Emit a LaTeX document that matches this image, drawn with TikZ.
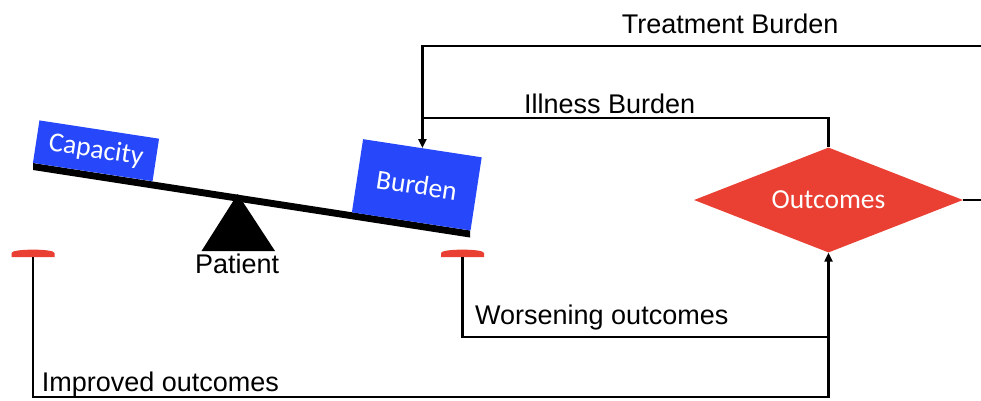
\documentclass[tikz,border=0pt]{standalone}
\usepackage{fontspec}
\setmainfont{Liberation Sans}
\newfontfamily\boxfont{Carlito}
\usetikzlibrary{shapes.geometric,arrows.meta}
\definecolor{boxblue}{RGB}{38,72,250}
\definecolor{outred}{RGB}{234,64,52}
\tikzset{
  wire/.style={line width=2.7pt,black},
  arrowwire/.style={wire,-{Triangle[length=9pt,width=8pt]}},
  label/.style={anchor=base west,inner sep=0pt,font=\fontsize{27}{30}\selectfont},
  weight/.style={fill=boxblue,text=white,inner sep=0pt,rotate=-8.7,
    font=\boxfont\fontsize{27.5}{30}\selectfont},
  stopper/.style={fill=outred},
}
\begin{document}
\begin{tikzpicture}[x=1pt,y=-1pt]
\useasboundingbox (0,0) rectangle (981,400);

% seesaw beam and fulcrum
\fill (33,163) -- (470,230.5) -- (470,237.5) -- (33,170) -- cycle;
\fill (237.7,194) -- (275,251) -- (201.5,251) -- cycle;

% weights resting on the beam
\node[weight,minimum width=121pt,minimum height=43pt] (capacity) at (96,150.8) {Capacity};
\node[weight,minimum width=120pt,minimum height=74pt] (burden) at (416.8,184.8) {Burden};

% outcome decision
\node[diamond,fill=outred,text=white,minimum width=269pt,minimum height=105pt,
  inner sep=0pt,aspect=2.56,font=\boxfont\fontsize{27.5}{30}\selectfont]
  (outcomes) at (828.5,200) {Outcomes};

% stoppers under the beam ends
\coordinate (stopL) at (33,257);
\coordinate (stopR) at (462.5,257);
\foreach \s in {stopL,stopR}{
  \fill[stopper] ([xshift=-21.5pt]\s) -- ([xshift=-21.5pt,yshift=4pt]\s)
    .. controls ([xshift=-21.5pt,yshift=8.5pt]\s) and ([xshift=21.5pt,yshift=8.5pt]\s)
    .. ([xshift=21.5pt,yshift=4pt]\s) -- ([xshift=21.5pt]\s) -- cycle;
}

% feedback loops
\coordinate (tbEdge) at (981,46);
\coordinate (outEdge) at (981,200);
\coordinate (ibTurn) at (421,118);
\coordinate (improvedCorner) at (828.5,397);
\coordinate (worseJoin) at (828.5,337);

\draw[arrowwire] (tbEdge) -| (burden.north);
\draw[wire] (outcomes.north) |- (ibTurn);
\draw[wire] (outcomes.east) -- (outEdge);
\draw[arrowwire] (stopL) |- (improvedCorner) -- (outcomes.south);
\draw[wire] (stopR) |- (worseJoin);

% labels
\node[label] (tbLabel) at (621.7,33.3) {Treatment Burden};
\node[label] (ibLabel) at (524,113) {Illness Burden};
\node[label] (patient) at (195,273.3) {Patient};
\node[label] (worse) at (475,324.3) {Worsening outcomes};
\node[label] (improved) at (41.7,391.7) {Improved outcomes};
\end{tikzpicture}
\end{document}
